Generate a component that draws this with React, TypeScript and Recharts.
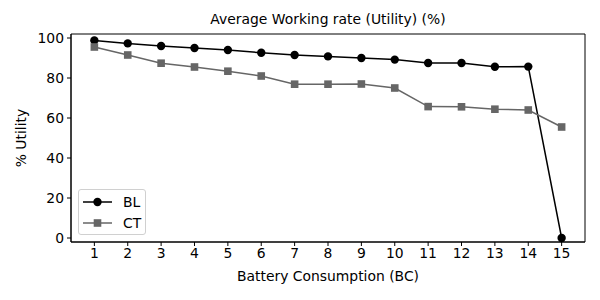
import React from "react";
import { LineChart, Line, XAxis, YAxis, ReferenceArea } from "recharts";

const steps = [1, 2, 3, 4, 5, 6, 7, 8, 9, 10, 11, 12, 13, 14, 15];
const blValues = [98.8, 97.3, 96, 95, 94, 92.6, 91.5, 90.8, 90, 89.2, 87.5, 87.5, 85.6, 85.7, 0];
const ctValues = [95.5, 91.5, 87.4, 85.5, 83.4, 81, 76.9, 76.9, 77, 75, 65.7, 65.6, 64.4, 64, 55.5];
const yTicks = [0, 20, 40, 60, 80, 100];

const FONT = "'DejaVu Sans', sans-serif";
const FS = 13.9;
const BL_COLOR = "#000000";
const CT_COLOR = "#666666";

const chartData = steps.map((s, i) => ({ step: s, bl: blValues[i], ct: ctValues[i] }));

const SquareDot = (props: any) => {
  const { cx, cy, stroke } = props;
  if (cx == null || cy == null) return null;
  return <rect x={cx - 3.8} y={cy - 3.8} width={7.6} height={7.6} fill={stroke} />;
};

const legendItems = [
  { name: "BL", color: BL_COLOR, shape: "circle" },
  { name: "CT", color: CT_COLOR, shape: "square" },
];

const LegendBox = () => (
  <div
    style={{
      position: "absolute",
      left: 78,
      top: 189,
      width: 68,
      height: 46,
      boxSizing: "border-box",
      border: "1px solid #d0d0d0",
      borderRadius: 3,
      background: "rgba(255,255,255,0.8)",
      padding: "1px 0 0 3px",
      fontFamily: FONT,
      fontSize: FS,
    }}
  >
    {legendItems.map((it) => (
      <div key={it.name} style={{ display: "flex", alignItems: "center", height: 21 }}>
        <svg width={32} height={12} style={{ marginRight: 9 }}>
          <line x1={1} y1={6} x2={30} y2={6} stroke={it.color} strokeWidth={1.5} />
          {it.shape === "circle" ? (
            <circle cx={15.5} cy={6} r={4.2} fill={it.color} />
          ) : (
            <rect x={11.7} y={2.2} width={7.6} height={7.6} fill={it.color} />
          )}
        </svg>
        <span>{it.name}</span>
      </div>
    ))}
  </div>
);

const App: React.FC = () => {
  return (
    <div style={{ position: "absolute", left: 0, top: 0, width: 600, height: 300, background: "#fff" }}>
      <div
        style={{
          position: "absolute",
          left: 71,
          width: 514,
          top: 11,
          textAlign: "center",
          fontFamily: FONT,
          fontSize: FS,
        }}
      >
        Average Working rate (Utility) (%)
      </div>
      <div
        style={{
          position: "absolute",
          left: 71,
          width: 514,
          top: 268,
          textAlign: "center",
          fontFamily: FONT,
          fontSize: FS,
        }}
      >
        Battery Consumption (BC)
      </div>
      <div
        style={{
          position: "absolute",
          left: 21,
          top: 138,
          transform: "translate(-50%, -50%) rotate(-90deg)",
          whiteSpace: "nowrap",
          fontFamily: FONT,
          fontSize: FS,
        }}
      >
        % Utility
      </div>
      <LineChart
        width={600}
        height={300}
        data={chartData}
        margin={{ top: 34, right: 15, bottom: 0, left: 0 }}
      >
        <ReferenceArea x1={0.3} x2={15.7} y1={-2} y2={102} fill="none" stroke="#000" strokeWidth={1} ifOverflow="visible" />
        <XAxis
          dataKey="step"
          type="number"
          domain={[0.3, 15.7]}
          ticks={steps}
          interval={0}
          allowDataOverflow
          stroke="#000"
          tickSize={4}
          tickMargin={2}
          tick={{ fill: "#000", fontSize: FS, fontFamily: FONT }}
          height={58}
        />
        <YAxis
          type="number"
          domain={[-2, 102]}
          ticks={yTicks}
          interval={0}
          allowDataOverflow
          stroke="#000"
          width={71}
          tickSize={4}
          tickMargin={3}
          tick={{ fill: "#000", fontSize: FS, fontFamily: FONT }}
        />
        <Line
          dataKey="bl"
          name="BL"
          type="linear"
          stroke={BL_COLOR}
          strokeWidth={1.5}
          dot={{ r: 4.2, fill: BL_COLOR, stroke: BL_COLOR, strokeWidth: 0 }}
          activeDot={false}
          isAnimationActive={false}
        />
        <Line
          dataKey="ct"
          name="CT"
          type="linear"
          stroke={CT_COLOR}
          strokeWidth={1.5}
          dot={<SquareDot />}
          activeDot={false}
          isAnimationActive={false}
        />
      </LineChart>
      <LegendBox />
    </div>
  );
};

export default App;
